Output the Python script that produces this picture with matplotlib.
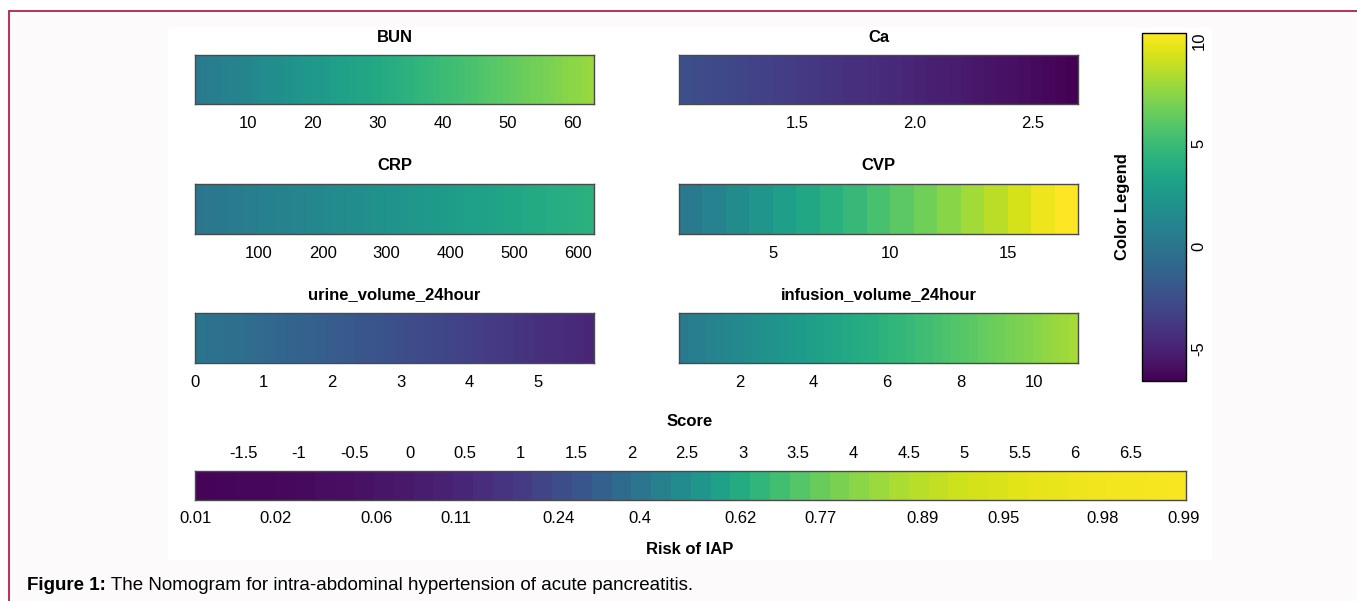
import numpy as np
import matplotlib
matplotlib.use("Agg")
import matplotlib.pyplot as plt
from matplotlib.patches import Rectangle
from matplotlib.colors import Normalize
from matplotlib.cm import ScalarMappable

plt.rcParams['font.family'] = ['Liberation Sans', 'DejaVu Sans']
plt.rcParams['axes.unicode_minus'] = False

W, H = 1357, 601

# variable ranges (value at left / right edge) and points at both ends
names = ["BUN", "Ca", "CRP", "CVP", "urine_volume_24hour", "infusion_volume_24hour"]
x_lo = [1.8, 1.0, 0.0, 1.0, 0.0, 0.34]
x_hi = [63.4, 2.69, 625.0, 18.0, 5.82, 11.2]
pts_lo = [0.23, -2.45, 0.0, 0.0, 0.0, 0.25]
pts_hi = [7.85, -6.6, 4.3, 10.9, -4.9, 8.2]
n_steps = [62, 34, 50, 17, 40, 44]
ticks = [
    [10, 20, 30, 40, 50, 60],
    [1.5, 2.0, 2.5],
    [100, 200, 300, 400, 500, 600],
    [5, 10, 15],
    [0, 1, 2, 3, 4, 5],
    [2, 4, 6, 8, 10],
]
tick_labels = [
    ["10", "20", "30", "40", "50", "60"],
    ["1.5", "2.0", "2.5"],
    ["100", "200", "300", "400", "500", "600"],
    ["5", "10", "15"],
    ["0", "1", "2", "3", "4", "5"],
    ["2", "4", "6", "8", "10"],
]

# colour legend range
leg_min, leg_max = -6.6, 10.4
leg_ticks = [-5, 0, 5, 10]

# total score / risk scale
score_min, score_max = -1.93, 7.0
score_ticks = [-1.5, -1, -0.5, 0, 0.5, 1, 1.5, 2, 2.5, 3, 3.5, 4, 4.5, 5, 5.5, 6, 6.5]
score_labels = ["-1.5", "-1", "-0.5", "0", "0.5", "1", "1.5", "2", "2.5", "3",
                "3.5", "4", "4.5", "5", "5.5", "6", "6.5"]
risk_intercept, risk_slope = -2.609, 1.029
risk_pos = [-1.937, -1.207, -0.297, 0.414, 1.342, 2.072, 2.982, 3.703, 4.622, 5.351, 6.252, 6.982]
risk_labels = ["0.01", "0.02", "0.06", "0.11", "0.24", "0.4", "0.62", "0.77",
               "0.89", "0.95", "0.98", "0.99"]
score_steps = 50

TICK_FS = 12
TITLE_FS = 12


def frect(x0, y0, x1, y1):
    return [x0 / W, 1 - y1 / H, (x1 - x0) / W, (y1 - y0) / H]


def ftext(x, y, s, **kw):
    return fig.text(x / W, 1 - y / H, s, **kw)


fig = plt.figure(figsize=(W / 100, H / 100), dpi=100)
fig.patch.set_facecolor('white')

# page frame and white plot panel
fig.patches.append(Rectangle((9 / W, -0.2), 1.2, 1.2 - 11 / H, transform=fig.transFigure,
                             facecolor='#fcfafb', edgecolor='#b81d4c', lw=1.3, zorder=-2))
fig.patches.append(Rectangle((168 / W, 1 - 560 / H), (1212 - 168) / W, (560 - 27) / H,
                             transform=fig.transFigure, facecolor='white',
                             edgecolor='none', zorder=-1))

cmap = plt.get_cmap('viridis')
norm = Normalize(leg_min, leg_max)

bar_x = [(195, 594), (679, 1078)]
bar_y = [(55, 104), (184, 234), (313, 363)]

for i, name in enumerate(names):
    (x0, x1) = bar_x[i % 2]
    (y0, y1) = bar_y[i // 2]
    ax = fig.add_axes(frect(x0, y0, x1, y1))
    edges = np.linspace(x_lo[i], x_hi[i], n_steps[i] + 1)
    mids = (edges[:-1] + edges[1:]) / 2
    pts = pts_lo[i] + (mids - x_lo[i]) / (x_hi[i] - x_lo[i]) * (pts_hi[i] - pts_lo[i])
    ax.pcolormesh(edges, [0, 1], pts[np.newaxis, :], cmap=cmap, norm=norm)
    ax.set_xlim(x_lo[i], x_hi[i])
    ax.set_ylim(0, 1)
    ax.set_yticks([])
    ax.set_xticks(ticks[i], tick_labels[i])
    ax.tick_params(axis='x', length=0, pad=8.5, labelsize=TICK_FS)
    for sp in ax.spines.values():
        sp.set_color('#4a4a4a')
        sp.set_linewidth(1.0)
    ftext((x0 + x1) / 2, y0 - 18, name, ha='center', va='center',
          fontsize=TITLE_FS, fontweight='bold')

# score bar coloured by risk
ax = fig.add_axes(frect(195, 471, 1186, 500))
edges = np.linspace(score_min, score_max, score_steps + 1)
mids = (edges[:-1] + edges[1:]) / 2
risk = 1 / (1 + np.exp(-(risk_intercept + risk_slope * mids)))
ax.pcolormesh(edges, [0, 1], risk[np.newaxis, :], cmap=cmap, vmin=0, vmax=1)
ax.set_xlim(score_min, score_max)
ax.set_ylim(0, 1)
ax.set_yticks([])
ax.set_xticks(risk_pos, risk_labels)
ax.tick_params(axis='x', length=0, pad=8, labelsize=TICK_FS)
top = ax.secondary_xaxis('top')
top.set_xticks(score_ticks, score_labels)
top.tick_params(axis='x', length=0, pad=7.5, labelsize=TICK_FS)
top.spines['top'].set_visible(False)
for sp in ax.spines.values():
    sp.set_color('#4a4a4a')
    sp.set_linewidth(1.0)
ftext(690, 421, "Score", ha='center', va='center', fontsize=TITLE_FS, fontweight='bold')
ftext(690, 550, "Risk of IAP", ha='center', va='center', fontsize=TITLE_FS, fontweight='bold')

# colour legend
cax = fig.add_axes(frect(1142, 33, 1186, 381))
cb = fig.colorbar(ScalarMappable(norm=norm, cmap=cmap), cax=cax, ticks=leg_ticks)
cb.outline.set_edgecolor('black')
cb.outline.set_linewidth(1.0)
cax.tick_params(length=0, pad=4, labelsize=TICK_FS)
for lab in cax.get_yticklabels():
    lab.set_rotation(90)
    lab.set_va('center')
ftext(1122, 207, "Color Legend", ha='center', va='center', rotation=90,
      fontsize=TITLE_FS, fontweight='bold')

# caption
t1 = ftext(27, 585, "Figure 1:", ha='left', va='center', fontsize=13.5, fontweight='bold')
ax_cap = fig.add_axes([0, 0, 1, 1], facecolor='none')
ax_cap.set_axis_off()
ax_cap.annotate(" The Nomogram for intra-abdominal hypertension of acute pancreatitis.",
                xy=(1, 0.5), xycoords=t1, ha='left', va='center', fontsize=13.5)

fig.savefig("out.png", dpi=100)
